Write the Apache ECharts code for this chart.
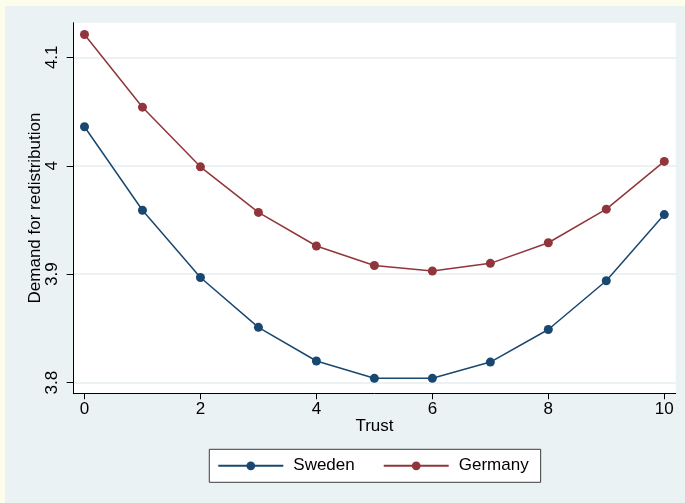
<!DOCTYPE html>
<html>
<head>
<meta charset="utf-8">
<script src="https://cdn.jsdelivr.net/npm/echarts@6/dist/echarts.min.js"></script>
<style>
html,body{margin:0;padding:0;width:685px;height:503px;overflow:hidden;background:#FDFDEB;}
#chart{position:absolute;left:5px;top:6px;width:680px;height:497px;background:#EAF2F3;}
</style>
</head>
<body>
<div id="chart"></div>
<script>
const trust = [0, 1, 2, 3, 4, 5, 6, 7, 8, 9, 10];
const sweden = [4.036, 3.959, 3.897, 3.851, 3.820, 3.804, 3.804, 3.819, 3.849, 3.894, 3.955];
const germany = [4.121, 4.054, 3.999, 3.957, 3.926, 3.908, 3.903, 3.910, 3.929, 3.960, 4.004];
const xTicks = [0, 2, 4, 6, 8, 10];
const yTicks = [3.8, 3.9, 4, 4.1];
const seriesNames = ['Sweden', 'Germany'];

const FONT = "'Liberation Sans', Arial, sans-serif";
const chart = echarts.init(document.getElementById('chart'));
const pairs = arr => trust.map((t, i) => [t, arr[i]]);

chart.setOption({
  animation: false,
  textStyle: { fontFamily: FONT, color: '#000' },
  grid: { left: 68.3, top: 16.7, width: 602.4, height: 370.6, show: true, backgroundColor: '#ffffff', borderWidth: 0 },
  xAxis: {
    type: 'value', min: -0.193, max: 10.197,
    name: 'Trust', nameLocation: 'middle', nameGap: 25, nameMoveOverlap: false,
    nameTextStyle: { fontSize: 17, color: '#000', fontFamily: FONT },
    axisLine: { show: true, onZero: false, lineStyle: { color: '#000', width: 1 } },
    axisTick: { show: true, length: 6, customValues: xTicks, lineStyle: { color: '#000', width: 1 } },
    axisLabel: { customValues: xTicks, fontSize: 17, color: '#000', margin: 8, fontFamily: FONT },
    splitLine: { show: false }
  },
  yAxis: {
    type: 'value', min: 3.7902, max: 4.1319,
    name: 'Demand for redistribution', nameLocation: 'middle', nameGap: 29, nameMoveOverlap: false,
    nameTextStyle: { fontSize: 17, color: '#000', fontFamily: FONT },
    axisLine: { show: true, onZero: false, lineStyle: { color: '#000', width: 1 } },
    axisTick: { show: true, length: 6.6, customValues: yTicks, lineStyle: { color: '#000', width: 1 } },
    axisLabel: { customValues: yTicks, fontSize: 17, color: '#000', rotate: 90, margin: 12, fontFamily: FONT },
    splitLine: { show: true, lineStyle: { color: '#E6EEF0', width: 1.5 } }
  },
  legend: {
    left: 204.3, top: 443.3,
    orient: 'horizontal',
    data: seriesNames,
    itemWidth: 65, itemHeight: 11, itemGap: 28,
    padding: [8, 12, 8, 8],
    backgroundColor: '#ffffff', borderColor: '#3c3c3c', borderWidth: 1, borderRadius: 0,
    textStyle: { fontSize: 17, color: '#000', fontFamily: FONT, padding: [0, 0, 0, 5] }
  },
  series: [
    { name: seriesNames[0], type: 'line', data: pairs(sweden), symbol: 'circle', symbolSize: 9,
      color: '#1A476F', lineStyle: { color: '#1A476F', width: 1.5 }, itemStyle: { color: '#1A476F' } },
    { name: seriesNames[1], type: 'line', data: pairs(germany), symbol: 'circle', symbolSize: 9,
      color: '#90353B', lineStyle: { color: '#90353B', width: 1.5 }, itemStyle: { color: '#90353B' } }
  ]
});
</script>
</body>
</html>
